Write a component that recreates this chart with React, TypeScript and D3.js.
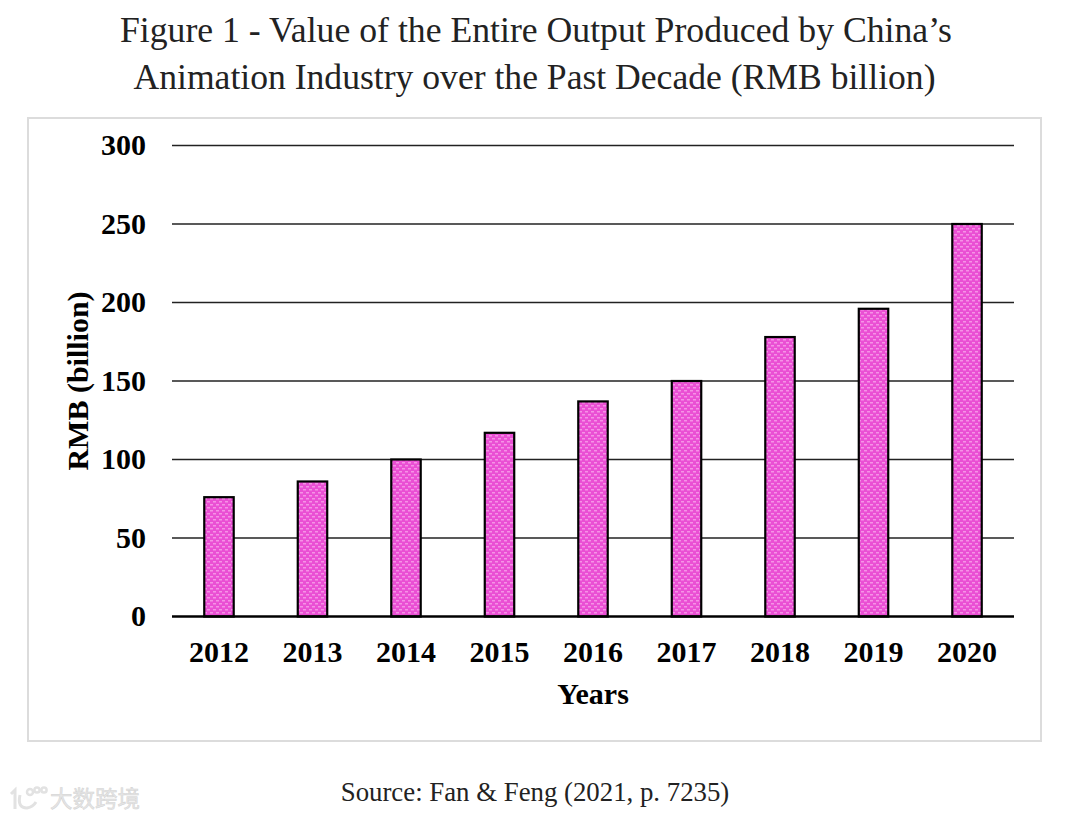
import React from "react";
import * as d3 from "d3";

const years = ["2012","2013","2014","2015","2016","2017","2018","2019","2020"];
const values = [76, 86, 100, 117, 137, 150, 178, 196, 250];
const yTicks = [0, 50, 100, 150, 200, 250, 300];

const W = 1069, H = 819;

export default function App() {
  const x = d3.scaleBand<string>().domain(years).range([172, 1014]).paddingInner(0.685).paddingOuter(0.345);
  const y = d3.scaleLinear().domain([0, 300]).range([616.5, 145.5]);
  const serif = "'Liberation Serif', serif";
  return (
    <svg width={W} height={H} viewBox={`0 0 ${W} ${H}`} style={{ position: "fixed", left: 0, top: 0, background: "#fff" }}>
      <defs>
        <pattern id="dots" width="6" height="6" patternUnits="userSpaceOnUse">
          <rect width="6" height="6" fill="#ea4fd4" />
          <rect x="0" y="0" width="3" height="1.5" fill="#f592e6" />
          <rect x="3" y="3" width="3" height="1.5" fill="#f592e6" />
        </pattern>
      </defs>
      <g fontFamily={serif} fill="#222" fontSize={36} textAnchor="middle">
        <text x={536} y={42} textLength={832} lengthAdjust="spacingAndGlyphs">Figure 1 - Value of the Entire Output Produced by China’s</text>
        <text x={534.5} y={89} textLength={802} lengthAdjust="spacingAndGlyphs">Animation Industry over the Past Decade (RMB billion)</text>
      </g>
      <rect x={28} y={118} width={1013} height={623} fill="#fff" stroke="#dcdcdc" strokeWidth={2} />
      {yTicks.filter(t => t > 0).map(t => (
        <line key={t} x1={172} x2={1014} y1={y(t)} y2={y(t)} stroke="#222" strokeWidth={1.3} />
      ))}
      {values.map((v, i) => (
        <rect key={years[i]} x={x(years[i])!} y={y(v)} width={x.bandwidth()} height={y(0) - y(v)}
          fill="url(#dots)" stroke="#000" strokeWidth={2.2} />
      ))}
      <line x1={172} x2={1014} y1={y(0)} y2={y(0)} stroke="#000" strokeWidth={2.4} />
      <g fontFamily={serif} fontWeight="bold" fontSize={30} fill="#000">
        {yTicks.map(t => (
          <text key={t} x={146} y={y(t) + 9.5} textAnchor="end">{t}</text>
        ))}
        {years.map(yr => (
          <text key={yr} x={x(yr)! + x.bandwidth() / 2} y={661.5} textAnchor="middle">{yr}</text>
        ))}
        <text x={593} y={703.5} textAnchor="middle">Years</text>
        <text transform="translate(88,381) rotate(-90)" textAnchor="middle">RMB (billion)</text>
      </g>
      <text x={535} y={801} textAnchor="middle" fontFamily={serif} fontSize={26.8} fill="#222">Source: Fan &amp; Feng (2021, p. 7235)</text>
      <g fill="none" stroke="#e2e2e2" strokeWidth={2.5}>
        <path d="M11 794 L15 790 L15 809" strokeWidth={3} />
        <path d="M20 795 Q17 808 27 808 Q33 807 36 802" strokeWidth={3} />
        <circle cx={30} cy={792} r={3} />
        <circle cx={37} cy={790} r={2.6} />
        <circle cx={44} cy={790} r={2.6} />
      </g>
      <text x={50} y={807} fontFamily="'Noto Sans CJK SC', sans-serif" fontSize={22.5} fill="#e6e6e6" stroke="#d2d2d2" strokeWidth={0.5}>大数跨境</text>
    </svg>
  );
}
